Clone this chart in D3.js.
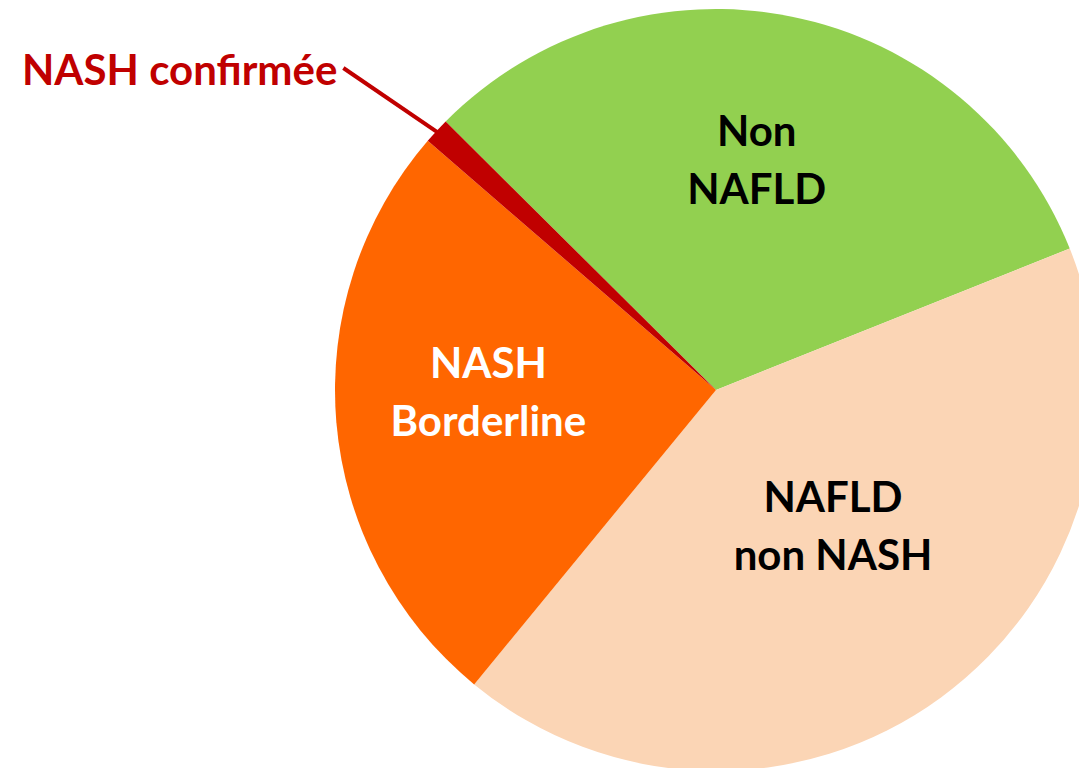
<!DOCTYPE html>
<html><head><meta charset="utf-8">
<script src="https://cdn.jsdelivr.net/npm/d3@7"></script>
<style>html,body{margin:0;padding:0;background:#fff;overflow:hidden}</style>
</head><body>
<svg id="chart" width="1079" height="768"></svg>
<script>
const categories = ["Non NAFLD", "NAFLD non NASH", "NASH Borderline", "NASH confirmée"];
const values = [31.5, 42.0, 25.4, 1.1];
const labelLines = [["Non", "NAFLD"], ["NAFLD", "non NASH"], ["NASH", "Borderline"], ["NASH confirmée"]];
const colors = ["#92D050", "#FBD5B5", "#FF6600", "#C00000"];
const textColors = ["#000000", "#000000", "#FFFFFF", "#C00000"];
const labelRadiusFrac = [0.615, 0.471, 0.597, null];
const labelNudge = [[-6, 0], [11, -9], [-1, -17], null];

const W = 1079, H = 768;
const cx = 716, cy = 390, R = 381;
const startDeg = -45.2;

const svg = d3.select("#chart");
const g = svg.append("g").attr("transform", `translate(${cx},${cy})`);

const pie = d3.pie().sort(null).value(d => d)
  .startAngle(startDeg * Math.PI / 180)
  .endAngle((startDeg + 360) * Math.PI / 180);
const arcs = pie(values);
const arc = d3.arc().innerRadius(0).outerRadius(R);

g.selectAll("path.slice").data(arcs).join("path")
  .attr("class", "slice")
  .attr("d", arc)
  .attr("fill", (d, i) => colors[i]);

const fontSize = 42, lineH = 58, capHalf = 15;
const fontFam = "Lato, 'Open Sans', sans-serif";
arcs.forEach((d, i) => {
  if (labelRadiusFrac[i] == null) return;
  const lr = R * labelRadiusFrac[i];
  let [x, y] = d3.arc().innerRadius(lr).outerRadius(lr).centroid(d);
  x += labelNudge[i][0]; y += labelNudge[i][1];
  const lines = labelLines[i];
  const t = g.append("text")
    .attr("text-anchor", "middle")
    .attr("font-family", fontFam)
    .attr("font-weight", "bold")
    .attr("font-size", fontSize)
    .attr("fill", textColors[i]);
  lines.forEach((ln, k) => {
    t.append("tspan")
      .attr("x", x)
      .attr("y", y + (k - (lines.length - 1) / 2) * lineH + capHalf)
      .text(ln);
  });
});

// outside label for the small slice with leader line
const small = arcs[3];
const midA = (small.startAngle + small.endAngle) / 2;
const edge = [Math.sin(midA) * (R - 3), -Math.cos(midA) * (R - 3)];
const textEl = svg.append("text")
  .attr("x", 22).attr("y", 85)
  .attr("font-family", fontFam)
  .attr("font-weight", "bold")
  .attr("font-size", fontSize)
  .attr("fill", textColors[3])
  .text(labelLines[3][0]);
const bb = textEl.node().getBBox();
svg.append("line")
  .attr("x1", bb.x + bb.width + 6).attr("y1", 68)
  .attr("x2", cx + edge[0]).attr("y2", cy + edge[1])
  .attr("stroke", colors[3]).attr("stroke-width", 4);
</script>
</body></html>
